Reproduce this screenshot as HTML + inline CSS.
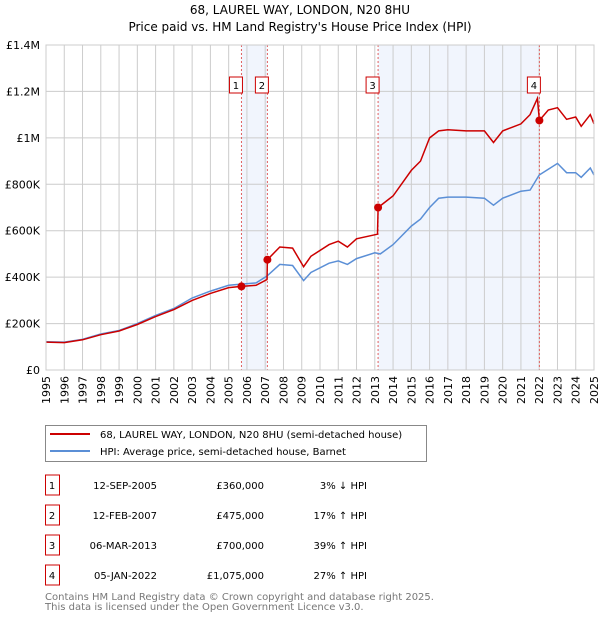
<!DOCTYPE html>
<html><head><meta charset="utf-8"><style>
body{margin:0;background:#fff;font-family:"DejaVu Sans","Liberation Sans",sans-serif;}
svg text{font-family:"DejaVu Sans","Liberation Sans",sans-serif;}
</style></head><body>
<svg width="600" height="620">
<text x="300" y="14" text-anchor="middle" font-size="12">68, LAUREL WAY, LONDON, N20 8HU</text>
<text x="300" y="31" text-anchor="middle" font-size="12">Price paid vs. HM Land Registry's House Price Index (HPI)</text>
<g id="plot"></g>
<g>
<rect x="45.5" y="425.5" width="381" height="36" fill="#fff" stroke="#888"/>
<line x1="50" y1="434" x2="90" y2="434" stroke="#cc0000" stroke-width="2"/>
<text x="100" y="438" font-size="10">68, LAUREL WAY, LONDON, N20 8HU (semi-detached house)</text>
<line x1="50" y1="451" x2="90" y2="451" stroke="#5b8fd6" stroke-width="2"/>
<text x="100" y="455" font-size="10">HPI: Average price, semi-detached house, Barnet</text>
</g>
<g id="table" font-size="10"></g>
<text x="45" y="600" font-size="10" fill="#777">Contains HM Land Registry data © Crown copyright and database right 2025.</text>
<text x="45" y="610" font-size="10" fill="#777">This data is licensed under the Open Government Licence v3.0.</text>
</svg>
<script>
const hpiYears=[1995,1996,1997,1998,1999,2000,2001,2002,2003,2004,2005,2005.7,2006.5,2007.1,2007.8,2008.5,2009.1,2009.5,2010.5,2011,2011.5,2012,2013,2013.3,2014,2015,2015.5,2016,2016.5,2017,2018,2019,2019.5,2020,2021,2021.5,2022,2022.5,2023,2023.5,2024,2024.3,2024.8,2025];
const hpiValues=[122,120,132,155,170,200,235,265,310,340,365,370,375,405,455,450,385,420,460,470,455,480,505,500,540,620,650,700,740,745,745,740,710,740,770,775,840,865,890,850,850,830,870,840];
const redYears=[1995,1996,1997,1998,1999,2000,2001,2002,2003,2004,2005,2005.7,2006.5,2007.1,2007.12,2007.8,2008.5,2009.1,2009.5,2010.5,2011,2011.5,2012,2013.15,2013.18,2014,2015,2015.5,2016,2016.5,2017,2018,2019,2019.5,2020,2021,2021.5,2021.9,2022.01,2022.5,2023,2023.5,2024,2024.3,2024.8,2025];
const redValues=[120,118,130,152,168,196,230,260,300,330,355,360,365,390,475,530,525,445,490,540,555,530,565,585,700,750,860,900,1000,1030,1035,1030,1030,980,1030,1060,1100,1170,1075,1120,1130,1080,1090,1050,1100,1060];
const saleLabels=["1","2","3","4"];
const saleDates=[2005.7,2007.12,2013.18,2022.01];
const salePrices=[360,475,700,1075];
const saleDateText=["12-SEP-2005","12-FEB-2007","06-MAR-2013","05-JAN-2022"];
const salePriceText=["£360,000","£475,000","£700,000","£1,075,000"];
const saleHpiText=["3% ↓ HPI","17% ↑ HPI","39% ↑ HPI","27% ↑ HPI"];
const yTicks=[0,200,400,600,800,1000,1200,1400];
const yTickLabels=["£0","£200K","£400K","£600K","£800K","£1M","£1.2M","£1.4M"];
const xTicks=[1995,1996,1997,1998,1999,2000,2001,2002,2003,2004,2005,2006,2007,2008,2009,2010,2011,2012,2013,2014,2015,2016,2017,2018,2019,2020,2021,2022,2023,2024,2025];

const X0=46,X1=594,Y0=370,Y1=45;
const xs=v=>X0+(v-1995)/30*(X1-X0);
const ys=v=>Y0-v/1400*(Y0-Y1);
const NS="http://www.w3.org/2000/svg";
const plot=document.getElementById('plot');
function mk(tag,attrs,parent){const e=document.createElementNS(NS,tag);for(const k in attrs)e.setAttribute(k,attrs[k]);parent.appendChild(e);return e;}
// shading
[[0,1],[2,3]].forEach(p=>{
 const r=mk('rect',{x:xs(saleDates[p[0]]),y:Y1,width:xs(saleDates[p[1]])-xs(saleDates[p[0]]),height:Y0-Y1,fill:'#eef3fc',opacity:0.8},plot);
 
 
});
xTicks.forEach(t=>{
 const l=mk('line',{x1:xs(t),x2:xs(t),y1:Y1,y2:Y0,stroke:'#ccc'},plot);
 
 
 const tx=mk('text',{x:0,y:0,'font-size':11,'text-anchor':'end',transform:`translate(${xs(t)+4},${Y0+6}) rotate(-90)`},plot);
 tx.textContent=t;
 
 
});
yTicks.forEach((t,i)=>{
 const l=mk('line',{x1:X0,x2:X1,y1:ys(t),y2:ys(t),stroke:'#ccc'},plot);
 
 
 const tx=mk('text',{x:X0-6,y:ys(t)+4,'font-size':11,'text-anchor':'end'},plot);
 tx.textContent=yTickLabels[i];
 
 
});
saleDates.forEach((d,i)=>{
 const l=mk('line',{x1:xs(d),x2:xs(d),y1:Y1,y2:Y0,stroke:'#e06060','stroke-dasharray':'2,2'},plot);
 
 
 const b=mk('rect',{x:xs(d)-12,y:77,width:13,height:16,fill:'#fff',stroke:'#cc0000'},plot);
 
 
 const t=mk('text',{x:xs(d)-5.5,y:89,'font-size':10,'text-anchor':'middle'},plot);
 t.textContent=saleLabels[i];
 
 
});
const pts=(a,b)=>a.map((v,i)=>xs(v).toFixed(1)+','+ys(b[i]).toFixed(1)).join(' ');
const h=mk('polyline',{points:pts(hpiYears,hpiValues),fill:'none',stroke:'#5b8fd6','stroke-width':1.5},plot);


const r=mk('polyline',{points:pts(redYears,redValues),fill:'none',stroke:'#cc0000','stroke-width':1.5},plot);


saleDates.forEach((d,i)=>{
 const c=mk('circle',{cx:xs(d),cy:ys(salePrices[i]),r:4,fill:'#cc0000'},plot);
 
 
});
mk('rect',{x:X0,y:Y1,width:X1-X0,height:Y0-Y1,fill:'none',stroke:'#ccc'},plot);
const tb=document.getElementById('table');
saleLabels.forEach((s,i)=>{
 const y=483+i*30;
 const b=mk('rect',{x:45.5,y:y-8,width:14,height:20,fill:'#fff',stroke:'#cc0000'},tb);
 
 
 const cells=[[52,'middle',s],[157,'end',saleDateText[i]],[264,'end',salePriceText[i]],[367,'end',saleHpiText[i]]];
 cells.forEach(c=>{
  const t=mk('text',{x:c[0],y:y+6,'text-anchor':c[1]},tb);
  t.textContent=c[2];
  
  
 });
});
</script>
</body></html>
